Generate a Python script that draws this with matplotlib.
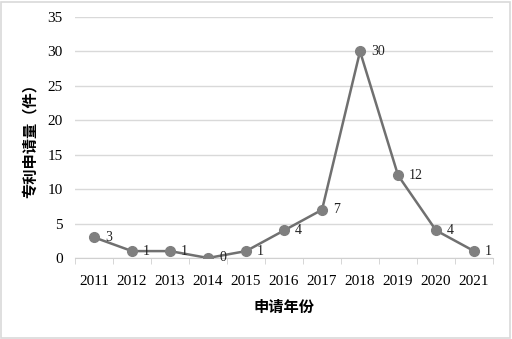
import matplotlib
matplotlib.use('Agg')
import matplotlib.pyplot as plt
from matplotlib.ticker import FixedLocator

years = ['2011', '2012', '2013', '2014', '2015', '2016', '2017', '2018', '2019', '2020', '2021']
counts = [3, 1, 1, 0, 1, 4, 7, 30, 12, 4, 1]

serif = ['Liberation Serif', 'DejaVu Serif']
cjk = ['Noto Sans CJK SC', 'DejaVu Sans']

fig = plt.figure(figsize=(5.12, 3.39), dpi=100)
ax = fig.add_axes([0.1465, 0.239, 0.8165, 0.711])

x = list(range(len(years)))
ax.plot(x, counts, color='#707070', linewidth=1.8, marker='o', markersize=7,
        markerfacecolor='#7f7f7f', markeredgecolor='#7f7f7f', zorder=3)

for xi, v in zip(x, counts):
    ax.annotate(str(v), (xi, v), xytext=(8, 0), textcoords='offset points',
                fontsize=10, family=serif, color='#222222', va='center')

ax.set_xlim(-0.5, len(years) - 0.5)
ax.set_ylim(0, 35)
ax.set_yticks(range(0, 36, 5))
ax.set_xticks(x)
ax.set_xticklabels(years, family=serif, fontsize=11)
ax.xaxis.set_minor_locator(FixedLocator([i - 0.5 for i in range(len(years) + 1)]))
ax.tick_params(axis='x', which='major', length=0, pad=12)
ax.tick_params(axis='x', which='minor', length=4, color='#d0d0d0', direction='out')
ax.tick_params(axis='y', length=0, pad=9)
for lab in ax.get_yticklabels():
    lab.set_family(serif)
    lab.set_fontsize(11)

ax.grid(axis='y', color='#d9d9d9', linewidth=1)
ax.set_axisbelow(True)
for s in ['top', 'right', 'left']:
    ax.spines[s].set_visible(False)
ax.spines['bottom'].set_color('#d0d0d0')

ax.set_ylabel('专利申请量（件）', family=cjk, fontsize=11, fontweight='bold', va='center')
ax.yaxis.set_label_coords(-0.108, 0.5)
ax.set_xlabel('申请年份', family=cjk, fontsize=11, fontweight='bold', labelpad=8)

fig.patches.append(plt.Rectangle((0.002, 0.003), 0.994, 0.992, transform=fig.transFigure,
                                 fill=False, edgecolor='#d9d9d9', linewidth=1.2))

fig.savefig('out.png', dpi=100)
